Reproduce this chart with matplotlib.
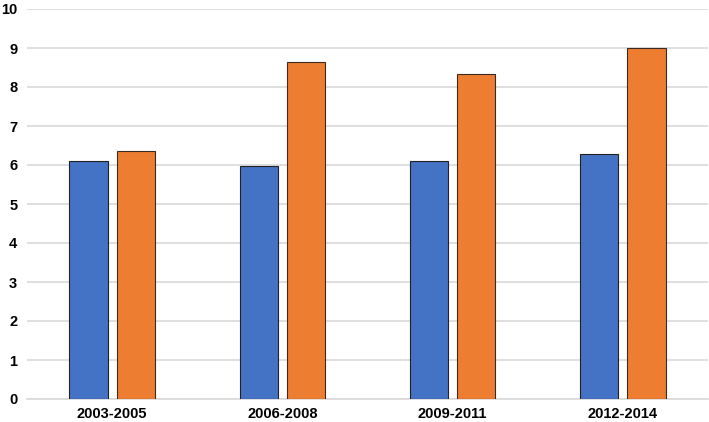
import matplotlib.pyplot as plt
import numpy as np

# data
periods = ['2003-2005', '2006-2008', '2009-2011', '2012-2014']
blue_vals = [6.1, 5.97, 6.1, 6.28]
orange_vals = [6.35, 8.65, 8.33, 9.0]

plt.rcParams['font.family'] = ['Liberation Sans', 'DejaVu Sans']

fig = plt.figure(figsize=(7.09, 4.22), dpi=100)
ax = fig.add_axes([27/709, 23/422, 681/709, 390/422])

x = np.arange(len(periods))
w = 0.225
off = 0.139
ax.bar(x - off, blue_vals, w, color='#4472C4', edgecolor='#222222', linewidth=0.8, zorder=3)
ax.bar(x + off, orange_vals, w, color='#ED7D31', edgecolor='#3a2a20', linewidth=0.8, zorder=3)

ax.set_xlim(-0.5, 3.5)
ax.set_ylim(0, 10)
ax.set_yticks(range(0, 11))
ax.set_xticks(x)
ax.set_xticklabels(periods)
ax.yaxis.grid(True, color='#d9d9d9', linewidth=1.2, zorder=0)
ax.tick_params(length=0, labelsize=10.5)
ax.tick_params(axis='y', pad=7)
ax.tick_params(axis='x', pad=6)
for lab in ax.get_xticklabels() + ax.get_yticklabels():
    lab.set_fontweight('bold')
for s in ['top', 'right', 'left']:
    ax.spines[s].set_visible(False)
ax.spines['bottom'].set_color('#d9d9d9')
ax.spines['bottom'].set_linewidth(1.2)

plt.savefig('out.png', dpi=100)
